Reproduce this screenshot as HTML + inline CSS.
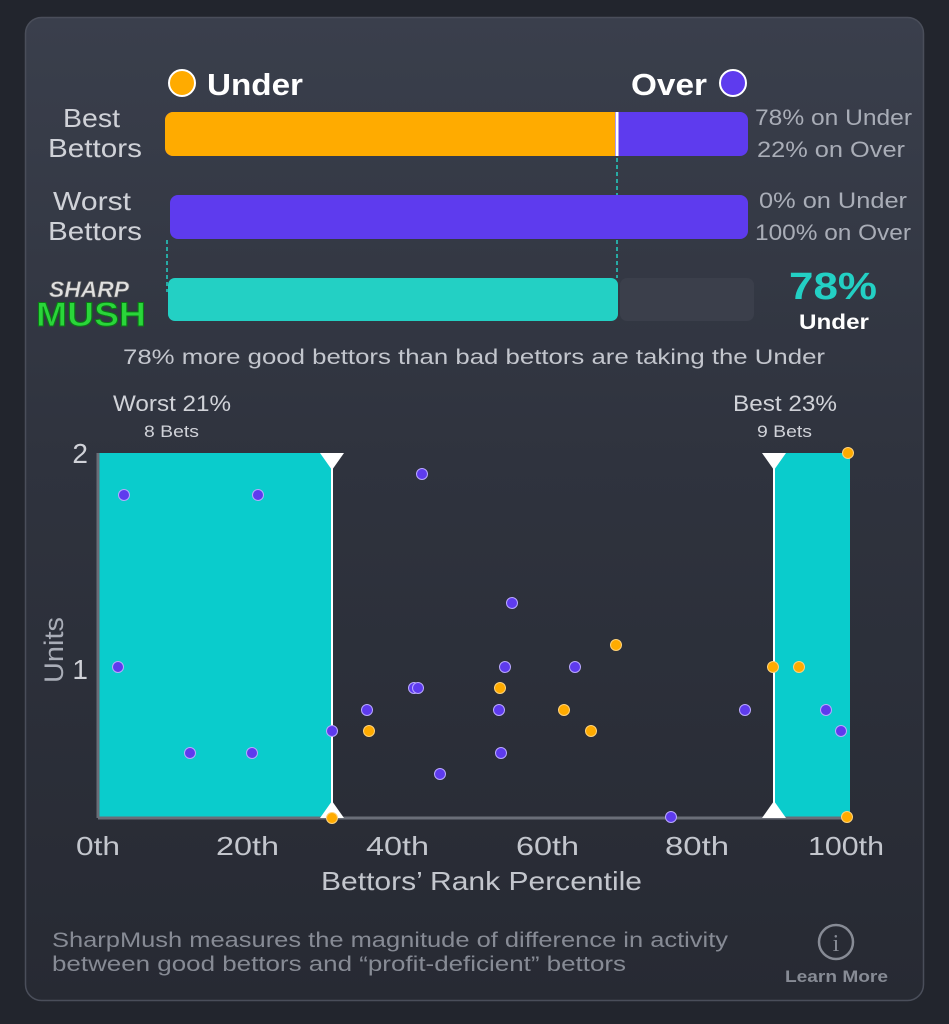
<!DOCTYPE html>
<html><head><meta charset="utf-8"><style>
html,body{margin:0;padding:0;background:#22252d;}
svg{display:block;font-family:"Liberation Sans",sans-serif;}
</style></head><body>
<svg width="949" height="1024" viewBox="0 0 949 1024" xmlns="http://www.w3.org/2000/svg">
<defs>
<linearGradient id="cg" x1="0" y1="0" x2="0" y2="1">
<stop offset="0" stop-color="#3a3f4c"/><stop offset="0.45" stop-color="#2f333e"/><stop offset="1" stop-color="#272a33"/>
</linearGradient>
</defs>
<rect x="0" y="0" width="949" height="1024" fill="#22252d"/>
<rect x="25.5" y="17.5" width="898" height="983" rx="16" fill="url(#cg)" stroke="#4a4e5a" stroke-width="1.5"/>

<circle cx="182" cy="83" r="13" fill="#ffab00" stroke="#fff" stroke-width="2"/>
<text x="207" y="95" font-size="31" font-weight="bold" fill="#fff" textLength="96" lengthAdjust="spacingAndGlyphs">Under</text>
<text x="631" y="95" font-size="31" font-weight="bold" fill="#fff" textLength="76" lengthAdjust="spacingAndGlyphs">Over</text>
<circle cx="733" cy="83" r="13" fill="#5e3bee" stroke="#fff" stroke-width="2"/>

<g fill="#d0d2d8" font-size="26">
<text x="63" y="127" textLength="57" lengthAdjust="spacingAndGlyphs">Best</text><text x="48" y="157" textLength="94" lengthAdjust="spacingAndGlyphs">Bettors</text>
<text x="53" y="210" textLength="78" lengthAdjust="spacingAndGlyphs">Worst</text><text x="48" y="240" textLength="94" lengthAdjust="spacingAndGlyphs">Bettors</text>
</g>
<g fill="#a9adb7" font-size="22">
<text x="755" y="125" textLength="157" lengthAdjust="spacingAndGlyphs">78% on Under</text><text x="757" y="157" textLength="148" lengthAdjust="spacingAndGlyphs">22% on Over</text>
<text x="759" y="208" textLength="148" lengthAdjust="spacingAndGlyphs">0% on Under</text><text x="755" y="240" textLength="156" lengthAdjust="spacingAndGlyphs">100% on Over</text>
</g>

<rect x="165" y="112" width="583" height="44" rx="8" fill="#5e3bee"/>
<path d="M173 112 H615 V156 H173 A8 8 0 0 1 165 148 V120 A8 8 0 0 1 173 112Z" fill="#ffab00"/>
<line x1="617" y1="112" x2="617" y2="156" stroke="#fff" stroke-width="3"/>
<rect x="170" y="195" width="578" height="44" rx="8" fill="#5e3bee"/>
<rect x="620" y="278" width="134" height="43" rx="7" fill="#3b3f4b"/>
<rect x="168" y="278" width="450" height="43" rx="7" fill="#23d0c4"/>
<g stroke="#23d0c4" stroke-width="1.5" stroke-dasharray="4,3">
<line x1="617" y1="158" x2="617" y2="195"/><line x1="617" y1="240" x2="617" y2="278"/>
<line x1="167" y1="240" x2="167" y2="292"/>
</g>
<text x="789" y="299" font-size="38" font-weight="bold" fill="#23d0c4" textLength="88" lengthAdjust="spacingAndGlyphs">78%</text>
<text x="799" y="329" font-size="21" font-weight="bold" fill="#fff" textLength="70" lengthAdjust="spacingAndGlyphs">Under</text>

<text x="49" y="297" font-size="22" font-weight="bold" font-style="italic" fill="#e0e0e0" stroke="#666" stroke-width="0.6" textLength="80" lengthAdjust="spacingAndGlyphs">SHARP</text>
<text x="36" y="326" font-size="34" font-weight="bold" fill="#2ad63a" stroke="#0a7a15" stroke-width="1" textLength="110" lengthAdjust="spacingAndGlyphs">MUSH</text>

<text x="123" y="364" font-size="21" fill="#c3c6cd" textLength="702" lengthAdjust="spacingAndGlyphs">78% more good bettors than bad bettors are taking the Under</text>

<text x="113" y="411" font-size="22" fill="#d0d2d8" textLength="118" lengthAdjust="spacingAndGlyphs">Worst 21%</text>
<text x="144" y="437" font-size="17" fill="#d0d2d8" textLength="55" lengthAdjust="spacingAndGlyphs">8 Bets</text>
<text x="733" y="411" font-size="22" fill="#d0d2d8" textLength="104" lengthAdjust="spacingAndGlyphs">Best 23%</text>
<text x="757" y="437" font-size="17" fill="#d0d2d8" textLength="55" lengthAdjust="spacingAndGlyphs">9 Bets</text>

<rect x="98" y="453" width="234" height="364" fill="#0acccc"/>
<rect x="775" y="453" width="75" height="364" fill="#0acccc"/>
<line x1="98" y1="453" x2="98" y2="818" stroke="#6a6e78" stroke-width="3"/>
<line x1="98" y1="818" x2="850" y2="818" stroke="#6a6e78" stroke-width="3"/>
<line x1="332" y1="453" x2="332" y2="817" stroke="#fff" stroke-width="2"/>
<line x1="774" y1="453" x2="774" y2="817" stroke="#fff" stroke-width="2"/>
<g fill="#fff">
<polygon points="320,453 344,453 332,470"/><polygon points="320,818 344,818 332,801"/>
<polygon points="762,453 786,453 774,470"/><polygon points="762,818 786,818 774,801"/>
</g>

<g fill="#d0d2d8" font-size="28">
<text x="88" y="463" text-anchor="end">2</text>
<text x="88" y="679" text-anchor="end">1</text>
</g>
<text transform="translate(63,650) rotate(-90)" font-size="27" fill="#a9adb7" text-anchor="middle" textLength="66" lengthAdjust="spacingAndGlyphs">Units</text>

<g fill="#5e3bee" stroke="#b9a8ff" stroke-width="1">
<circle cx="124" cy="495" r="5.5"/><circle cx="258" cy="495" r="5.5"/><circle cx="118" cy="667" r="5.5"/>
<circle cx="190" cy="753" r="5.5"/><circle cx="252" cy="753" r="5.5"/><circle cx="332" cy="731" r="5.5"/>
<circle cx="422" cy="474" r="5.5"/><circle cx="367" cy="710" r="5.5"/><circle cx="414" cy="688" r="5.5"/>
<circle cx="418" cy="688" r="5.5"/><circle cx="440" cy="774" r="5.5"/><circle cx="512" cy="603" r="5.5"/>
<circle cx="505" cy="667" r="5.5"/><circle cx="499" cy="710" r="5.5"/><circle cx="501" cy="753" r="5.5"/>
<circle cx="575" cy="667" r="5.5"/><circle cx="671" cy="817" r="5.5"/><circle cx="745" cy="710" r="5.5"/>
<circle cx="826" cy="710" r="5.5"/><circle cx="841" cy="731" r="5.5"/>
</g>
<g fill="#ffab00" stroke="#ffd27a" stroke-width="1">
<circle cx="332" cy="818" r="5.5"/><circle cx="369" cy="731" r="5.5"/><circle cx="500" cy="688" r="5.5"/>
<circle cx="564" cy="710" r="5.5"/><circle cx="591" cy="731" r="5.5"/><circle cx="616" cy="645" r="5.5"/>
<circle cx="773" cy="667" r="5.5"/><circle cx="799" cy="667" r="5.5"/><circle cx="848" cy="453" r="5.5"/>
<circle cx="847" cy="817" r="5.5"/>
</g>

<g fill="#c3c6cd" font-size="26">
<text x="76" y="855" textLength="44" lengthAdjust="spacingAndGlyphs">0th</text>
<text x="216" y="855" textLength="63" lengthAdjust="spacingAndGlyphs">20th</text>
<text x="366" y="855" textLength="63" lengthAdjust="spacingAndGlyphs">40th</text>
<text x="516" y="855" textLength="63" lengthAdjust="spacingAndGlyphs">60th</text>
<text x="665" y="855" textLength="64" lengthAdjust="spacingAndGlyphs">80th</text>
<text x="808" y="855" textLength="76" lengthAdjust="spacingAndGlyphs">100th</text>
</g>
<text x="321" y="890" font-size="26" fill="#c3c6cd" textLength="321" lengthAdjust="spacingAndGlyphs">Bettors’ Rank Percentile</text>

<text x="52" y="947" font-size="21" fill="#878b95" textLength="676" lengthAdjust="spacingAndGlyphs">SharpMush measures the magnitude of difference in activity</text>
<text x="52" y="971" font-size="21" fill="#878b95" textLength="574" lengthAdjust="spacingAndGlyphs">between good bettors and “profit-deficient” bettors</text>
<circle cx="836" cy="942" r="17" fill="none" stroke="#878b95" stroke-width="2.5"/>
<text x="836" y="951" font-size="24" fill="#878b95" text-anchor="middle" font-family="Liberation Serif,serif">i</text>
<text x="785" y="982" font-size="17" font-weight="bold" fill="#878b95" textLength="103" lengthAdjust="spacingAndGlyphs">Learn More</text>
</svg>
</body></html>
